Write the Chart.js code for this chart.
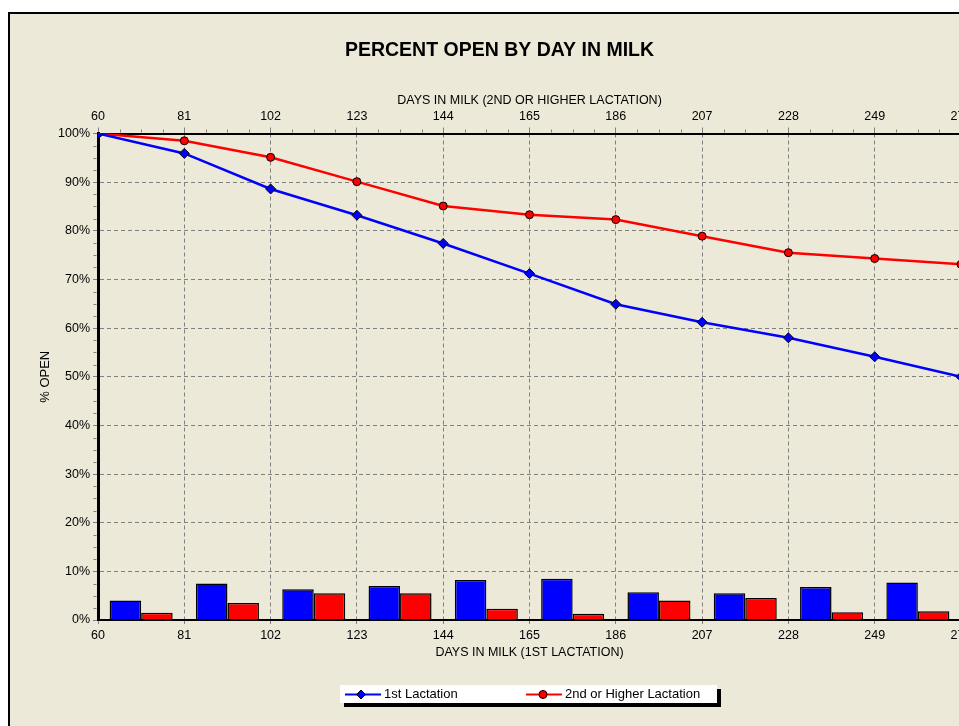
<!DOCTYPE html>
<html>
<head>
<meta charset="utf-8">
<title>Percent Open by Day in Milk</title>
<script src="https://cdn.jsdelivr.net/npm/chart.js"></script>
<style>
  html, body { margin: 0; padding: 0; background: #fff; overflow: hidden; }
  #panel { position: absolute; left: 8px; top: 12px; width: 1100px; height: 800px;
           border: 2px solid #000; background: #ECE9D8; }
  #myChart { position: absolute; left: 0; top: 0; }
</style>
</head>
<body>
<div id="panel"></div>
<canvas id="myChart" width="1000" height="726"></canvas>
<script>
// days in milk (tick labels on both x axes)
const days = [60, 81, 102, 123, 144, 165, 186, 207, 228, 249, 270];
// % open at each day
const firstLact = [100, 95.9, 88.6, 83.2, 77.4, 71.2, 64.9, 61.2, 58.0, 54.1, 50.0];
const secondLact = [100, 98.5, 95.1, 90.1, 85.1, 83.3, 82.3, 78.9, 75.5, 74.3, 73.1];
// % per 21 day window (bars)
const firstBars = [4.0, 7.5, 6.3, 7.0, 8.2, 8.5, 5.7, 5.5, 6.8, 7.7];
const secondBars = [1.5, 3.5, 5.5, 5.5, 2.3, 1.3, 4.0, 4.5, 1.6, 1.8];
// y tick labels
const yTicks = [0, 10, 20, 30, 40, 50, 60, 70, 80, 90, 100];

const legendItems = ["1st Lactation", "2nd or Higher Lactation"];

// bars sit in the middle of each window
const windowMid = firstBars.map((v, i) => (days[i] + days[i + 1]) / 2);

const FONT = 'Arial, "Liberation Sans", sans-serif';
Chart.defaults.font.family = FONT;
Chart.defaults.font.size = 12.5;
Chart.defaults.color = '#000';

const GRID = '#808080';

function setTicks(vals) {
  return function (scale) { scale.ticks = vals.map(v => ({ value: v })); };
}

// small minor tick marks: quarters on the top axis, 2.5% steps on y
const minorTicks = {
  id: 'minorTicks',
  afterDraw(chart) {
    const ctx = chart.ctx;
    const top = chart.scales.x2, y = chart.scales.y;
    const area = chart.chartArea;
    ctx.save();
    ctx.strokeStyle = GRID;
    ctx.lineWidth = 1;
    ctx.beginPath();
    for (let i = 0; i < days.length - 1; i++) {
      const step = (days[i + 1] - days[i]) / 4;
      for (let k = 1; k < 4; k++) {
        const px = Math.round(top.getPixelForValue(days[i] + k * step)) + 0.5;
        ctx.moveTo(px, area.top - 1);
        ctx.lineTo(px, area.top - 4);
      }
    }
    for (let i = 0; i < yTicks.length - 1; i++) {
      const step = (yTicks[i + 1] - yTicks[i]) / 4;
      for (let k = 1; k < 4; k++) {
        const py = Math.round(y.getPixelForValue(yTicks[i] + k * step)) + 0.5;
        ctx.moveTo(area.left - 1.5, py);
        ctx.lineTo(area.left - 4.5, py);
      }
    }
    ctx.stroke();
    ctx.restore();
  }
};

// legend box with shadow at the bottom
const boxLegend = {
  id: 'boxLegend',
  afterDraw(chart) {
    const ctx = chart.ctx;
    const x = 340, y = 685, w = 377, h = 18;
    ctx.save();
    ctx.fillStyle = '#000';
    ctx.fillRect(x + 4, y + 4, w, h);
    ctx.fillStyle = '#fff';
    ctx.fillRect(x, y, w, h);
    const cy = y + 9.5;
    ctx.font = '13px ' + FONT;
    ctx.textBaseline = 'middle';
    // 1st
    ctx.strokeStyle = '#0000ff'; ctx.lineWidth = 2;
    ctx.beginPath(); ctx.moveTo(345, cy); ctx.lineTo(381, cy); ctx.stroke();
    ctx.beginPath();
    ctx.moveTo(361, cy - 4.5); ctx.lineTo(365.5, cy); ctx.lineTo(361, cy + 4.5); ctx.lineTo(356.5, cy);
    ctx.closePath();
    ctx.fillStyle = '#0000ff'; ctx.fill();
    ctx.strokeStyle = '#000'; ctx.lineWidth = 1; ctx.stroke();
    ctx.fillStyle = '#000';
    ctx.fillText(legendItems[0], 384, cy);
    // 2nd
    ctx.strokeStyle = '#ff0000'; ctx.lineWidth = 2;
    ctx.beginPath(); ctx.moveTo(526, cy); ctx.lineTo(562, cy); ctx.stroke();
    ctx.beginPath(); ctx.arc(543, cy, 4, 0, Math.PI * 2);
    ctx.fillStyle = '#ff0000'; ctx.fill();
    ctx.strokeStyle = '#000'; ctx.lineWidth = 1; ctx.stroke();
    ctx.fillStyle = '#000';
    ctx.fillText(legendItems[1], 565, cy);
    ctx.restore();
  }
};

var ctx = document.getElementById('myChart').getContext('2d');
var chart = new Chart(ctx, {
  type: 'bar',
  data: {
    datasets: [
      {
        type: 'line',
        label: legendItems[0],
        data: days.map((d, i) => ({ x: d, y: firstLact[i] })),
        borderColor: '#0000ff',
        backgroundColor: '#0000ff',
        borderWidth: 2.5,
        pointStyle: 'rectRot',
        pointRadius: 5,
        pointBorderColor: '#000',
        pointBorderWidth: 1,
        tension: 0,
        order: 0
      },
      {
        type: 'line',
        label: legendItems[1],
        data: days.map((d, i) => ({ x: d, y: secondLact[i] })),
        borderColor: '#ff0000',
        backgroundColor: '#ff0000',
        borderWidth: 2.5,
        pointStyle: 'circle',
        pointRadius: 4,
        pointBorderColor: '#000',
        pointBorderWidth: 1,
        tension: 0,
        order: 0
      },
      {
        label: legendItems[0] + ' bars',
        data: windowMid.map((d, i) => ({ x: d, y: firstBars[i] })),
        backgroundColor: '#0000ff',
        borderColor: '#000',
        borderWidth: 1.5,
        categoryPercentage: 0.73,
        barPercentage: 1,
        order: 1
      },
      {
        label: legendItems[1] + ' bars',
        data: windowMid.map((d, i) => ({ x: d, y: secondBars[i] })),
        backgroundColor: '#ff0000',
        borderColor: '#000',
        borderWidth: 1.5,
        categoryPercentage: 0.73,
        barPercentage: 1,
        order: 1
      }
    ]
  },
  options: {
    responsive: false,
    animation: false,
    layout: { padding: { left: 38, right: 39, top: 0, bottom: 65.8 } },
    plugins: {
      legend: { display: false },
      tooltip: { enabled: false },
      title: {
        display: true,
        text: 'PERCENT OPEN BY DAY IN MILK',
        font: { size: 19.5, weight: 'bold' },
        color: '#000',
        padding: { top: 39.3, bottom: 7.7 }
      }
    },
    scales: {
      x: {
        type: 'linear',
        position: 'bottom',
        min: 60, max: 270,
        offset: false,
        afterBuildTicks: setTicks(days),
        afterFit(s) { s.height = 40.2; s.paddingLeft = 0; s.paddingRight = 0; },
        grid: {
          color: c => (c.tick && c.tick.value === 60) ? 'rgba(0,0,0,0)' : GRID,
          tickColor: GRID,
          tickLength: 4,
          offset: false
        },
        border: { display: true, color: '#000', width: 2, dash: [4, 3] },
        ticks: { padding: 4, maxRotation: 0, autoSkip: false },
        title: { display: true, text: 'DAYS IN MILK (1ST LACTATION)', padding: { top: 0, bottom: 0 } }
      },
      x2: {
        type: 'linear',
        position: 'top',
        min: 60, max: 270,
        offset: false,
        afterBuildTicks: setTicks(days),
        afterFit(s) { s.height = 63.1; s.paddingLeft = 0; s.paddingRight = 0; },
        grid: { display: true, drawOnChartArea: false, color: GRID, tickLength: 6, offset: false },
        border: { display: true, color: '#000', width: 2, dash: [4, 3] },
        ticks: { padding: 3, maxRotation: 0, autoSkip: false },
        title: { display: true, text: 'DAYS IN MILK (2ND OR HIGHER LACTATION)', padding: { top: 23.1, bottom: 0 } }
      },
      y: {
        position: 'left',
        min: 0, max: 100,
        afterBuildTicks: setTicks(yTicks),
        afterFit(s) { s.width = 60; s.paddingTop = 0; s.paddingBottom = 0; },
        grid: {
          color: c => (c.tick && (c.tick.value === 0 || c.tick.value === 100)) ? 'rgba(0,0,0,0)' : GRID,
          tickColor: GRID,
          tickLength: 5
        },
        border: { display: true, color: '#000', width: 3, dash: [4, 3] },
        ticks: { padding: 3, callback: v => v + '%' },
        title: { display: true, text: '% OPEN', font: { size: 13 }, padding: { top: 0, bottom: 0 } }
      }
    }
  },
  plugins: [minorTicks, boxLegend]
});
</script>
</body>
</html>
